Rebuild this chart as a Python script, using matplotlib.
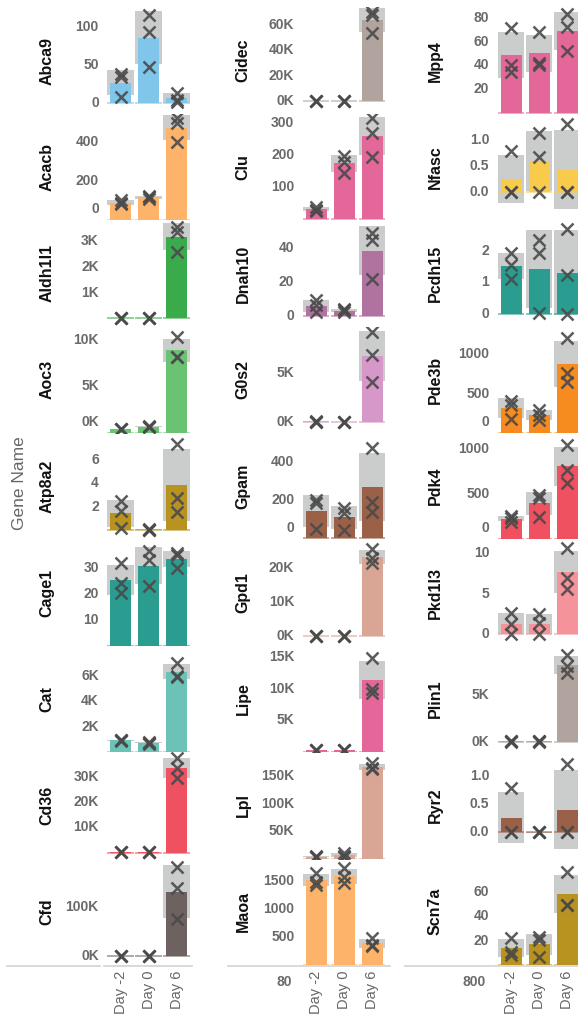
import numpy as np
import matplotlib
matplotlib.use("Agg")
import matplotlib.pyplot as plt
import matplotlib.transforms as mtransforms
from matplotlib.lines import Line2D

plt.rcParams['font.family'] = ['Liberation Sans', 'DejaVu Sans']

# ---------------- data ----------------
days = ["Day -2", "Day 0", "Day 6"]

genes = ["Abca9", "Acacb", "Aldh1l1", "Aoc3", "Atp8a2", "Cage1", "Cat", "Cd36", "Cfd",
         "Cidec", "Clu", "Dnah10", "G0s2", "Gpam", "Gpd1", "Lipe", "Lpl", "Maoa",
         "Mpp4", "Nfasc", "Pcdh15", "Pde3b", "Pdk4", "Pkd1l3", "Plin1", "Ryr2", "Scn7a"]

colors = ["#80c5ea", "#fdb46a", "#3aab4a", "#6ac372", "#b8931f", "#2a9d90", "#6cc2b6", "#f05160", "#6d625f",
          "#b1a39d", "#e4679a", "#b0729f", "#d698c8", "#9a6048", "#d9a696", "#e4679a", "#d9a696", "#fdb46a",
          "#e4679a", "#f8cb4c", "#2a9d90", "#f68b1f", "#f05160", "#f5939b", "#b1a39d", "#9a6048", "#b8931f"]

# replicate values (3 per condition)
day_m2 = [[38, 35, 8], [100, 85, 78], [30, 20, 15], [450, 420, 430], [2.5, 1.6, 0.15],
          [31.9, 24.1, 20.2], [980, 940, 900], [300, 200, 100], [500, 300, 200],
          [150, 100, 80], [40, 30, 27], [9, 6, 2], [60, 40, 30], [200, 183, 48],
          [100, 80, 60], [300, 250, 200], [4000, 3500, 3000], [1632, 1482, 1423],
          [71, 40.3, 34.7], [0.78, 0, 0], [1.91, 1.55, 1.09], [410, 360, 180],
          [250, 230, 190], [2.6, 1.2, 0.0], [80, 60, 50], [0.78, 0, 0], [21.9, 10.9, 8.2]]
day_0 = [[116, 94, 48], [122, 115, 108], [25, 18, 12], [680, 620, 630], [0.1, 0.02, 0.0],
         [36.5, 33.3, 23], [780, 740, 680], [250, 180, 120], [400, 300, 250],
         [130, 90, 70], [198, 180, 145], [4, 3, 1.8], [50, 40, 30], [157, 134, 44],
         [90, 70, 60], [280, 240, 200], [11000, 5000, 3500], [1721, 1571, 1454],
         [67.8, 41.8, 40.3], [1.12, 0.68, 0], [2.33, 1.91, 0.02], [290, 230, 165],
         [486, 449, 244], [2.5, 1.3, 0.05], [70, 60, 50], [0.01, 0, 0], [23.2, 20.5, 6.8]]
day_6 = [[14, 5, 2], [523, 497, 402], [3558, 3364, 2589], [10290, 8150, 8100], [7.37, 2.7, 1.57],
         [35.9, 34.9, 30.1], [7000, 6000, 5900], [37200, 33300, 29300], [181000, 137000, 74400],
         [70500, 67900, 53400], [315, 268, 196], [48.9, 45, 22], [9270, 6880, 4140], [470, 192, 140],
         [25500, 23000, 21500], [14800, 10000, 9250], [173000, 165000, 162000], [475, 356, 330],
         [83, 72, 52], [1.3, 0, 0], [2.67, 1.23, 0.0], [1199, 756, 650],
         [1045, 765, 617], [10.6, 6.9, 5.6], [9300, 8100, 7400], [1.2, 0, 0], [76.5, 49.5, 49.5]]

yticks = [[0, 50, 100], [0, 200, 400], [1000, 2000, 3000], [0, 5000, 10000], [2, 4, 6],
          [10, 20, 30], [2000, 4000, 6000], [10000, 20000, 30000], [0, 100000],
          [0, 20000, 40000, 60000], [100, 200, 300], [0, 20, 40], [0, 5000], [0, 200, 400],
          [0, 10000, 20000], [5000, 10000, 15000], [50000, 100000, 150000], [500, 1000, 1500],
          [20, 40, 60, 80], [0.0, 0.5, 1.0], [0, 1, 2], [0, 500, 1000],
          [0, 500, 1000], [0, 5, 10], [0, 5000], [0.0, 0.5, 1.0], [20, 40, 60]]
tick_fmt = ["i", "i", "K", "K", "i", "i", "K", "K", "K",
            "K", "i", "i", "K", "i", "K", "K", "K", "i",
            "i", "f", "i", "i", "i", "i", "K", "f", "i"]

# ---------------- layout (axis limits per panel) ----------------
ylims = [(-13.5, 125.6), (-3.6, 546), (-314, 3810), (-30, 11404), (-0.805, 8.31),
         (-0.1, 41.1), (0, 8330), (-2411, 39644), (-18256, 197566),
         (-10103, 73875), (-2.2, 329), (-6.6, 56.7), (-1129, 9795), (-4.7, 549.5),
         (-2882, 28412), (-111, 16778), (0, 193450), (0, 1893),
         (-0.7, 88.7), (-0.526, 1.493), (-0.397, 2.959), (0, 1347),
         (-10, 1179), (-1.457, 11.68), (-1093, 10311), (-0.458, 1.409), (0, 87.2)]

W, H = 578, 1031
fig = plt.figure(figsize=(W / 100, H / 100), dpi=100)

row_top0 = 7.4
row_h = 106.4
unit = 28.0
col_d0 = [120.5, 316.0, 511.0]
label_x = [47, 243, 435]
tick_color = "#6a6a6a"
band_color = "#cbcccc"
mark_color = "#4a4a4a"


def fmt(v, kind):
    if kind == "K":
        return f"{int(round(v / 1000))}K"
    if kind == "f":
        return f"{v:.1f}"
    return f"{int(round(v))}"


xpos = np.arange(len(days))
for gi, gene in enumerate(genes):
    col, row = divmod(gi, 9)
    top = row_top0 + row * row_h
    left = col_d0[col] - 0.6 * unit
    ax = fig.add_axes([left / W, 1 - (top + row_h) / H, 3.2 * unit / W, row_h / H])
    ax.set_xlim(-0.6, 2.6)
    lo, hi = ylims[gi]
    ax.set_ylim(lo, hi)
    for s in ax.spines.values():
        s.set_visible(False)
    ax.set_yticks([])
    ax.patch.set_alpha(0)

    reps = [np.array(day_m2[gi], float), np.array(day_0[gi], float), np.array(day_6[gi], float)]
    means = np.array([r.mean() for r in reps])
    sds = np.array([r.std(ddof=1) for r in reps])

    ax.bar(xpos, 2 * sds, bottom=means - sds, width=0.96, color=band_color, zorder=1, linewidth=0)
    ax.bar(xpos, means, width=0.75, color=colors[gi], zorder=2, linewidth=0)
    ax.hlines(np.zeros(3), xpos - 0.48, xpos + 0.48, color=colors[gi], lw=1.1, alpha=0.7, zorder=2)
    for xi, r in zip(xpos, reps):
        ax.plot(np.full(len(r), xi), r, linestyle="none", marker="x", ms=9, mew=1.8,
                color=mark_color, alpha=0.9, zorder=3)

    # y tick labels
    trans = mtransforms.blended_transform_factory(ax.transAxes, ax.transData)
    for t in yticks[gi]:
        gap = (t - lo) / (hi - lo) * row_h
        dy = 0.0
        if gap < 6:
            dy = (11 - gap) * 0.72
        tr = mtransforms.offset_copy(trans, fig=fig, x=-3.5, y=dy, units="points")
        ax.text(0, t, fmt(t, tick_fmt[gi]), transform=tr, ha="right", va="center",
                fontsize=10, fontweight="bold", color=tick_color, clip_on=False)

    # gene name label
    fig.text(label_x[col] / W, 1 - (top + row_h / 2) / H, gene, rotation=90,
             ha="center", va="center", fontsize=11.5, fontweight="bold", color="#111111")

    if row == 8:
        ax.set_xticks(xpos)
        ax.set_xticklabels(days, rotation=90, fontsize=10.5, color="#666666")
        ax.tick_params(axis="x", length=0, pad=4)
    else:
        ax.set_xticks([])

# bottom axis lines
ybase = 1 - 965.5 / H
for x0, x1 in [(7, 100), (104, 192), (228, 297), (299, 390), (405, 492), (494, 578)]:
    fig.add_artist(Line2D([x0 / W, x1 / W], [ybase, ybase], transform=fig.transFigure,
                          color="#d2d2d2", lw=1.2))

fig.text(292 / W, 1 - 982 / H, "80", ha="right", va="center", fontsize=10,
         fontweight="bold", color=tick_color)
fig.text(486 / W, 1 - 982 / H, "800", ha="right", va="center", fontsize=10,
         fontweight="bold", color=tick_color)
fig.text(20 / W, 1 - 483 / H, "Gene Name", rotation=90, ha="center", va="center",
         fontsize=12.5, color="#666666")

fig.savefig("out.png", dpi=100)
